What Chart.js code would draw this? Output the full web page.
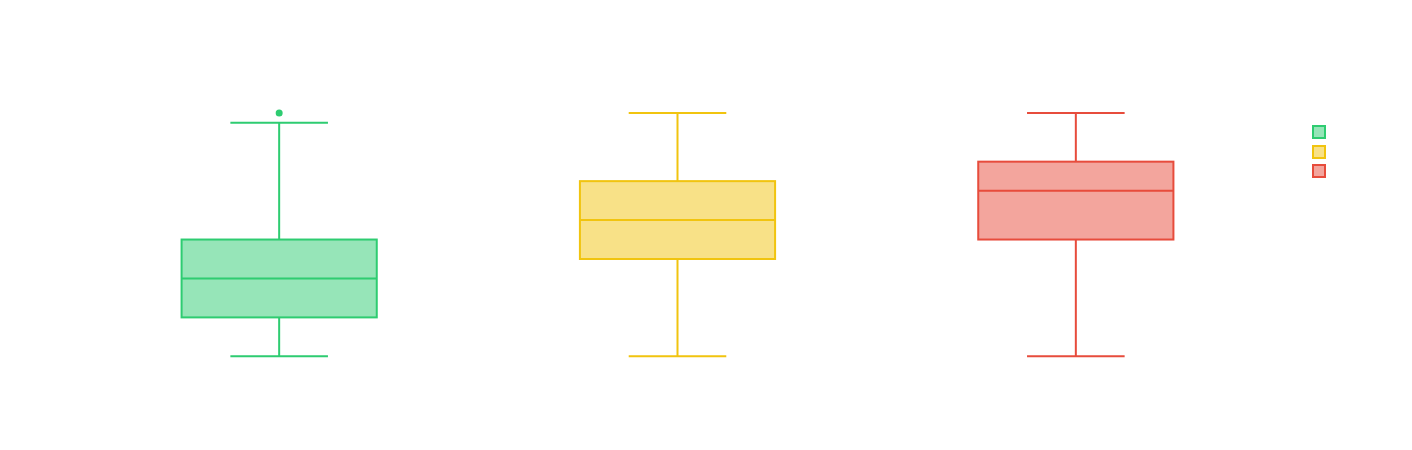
<!DOCTYPE html>
<html>
<head>
<meta charset="utf-8">
<script src="https://cdn.jsdelivr.net/npm/chart.js@4.4.1/dist/chart.umd.min.js"></script>
<style>
    html, body { margin: 0; padding: 0; background: #fff; }
    #wrap { width: 1412px; height: 450px; }
</style>
</head>
<body>
<div id="wrap"><canvas id="boxChart"></canvas></div>
<script>
// box plot summary per group (no labels are shown on the chart)
const groups = ['Group 1', 'Group 2', 'Group 3'];
const whiskerLow = [20, 20, 20];
const q1 = [28, 40, 44];
const medians = [36, 48, 54];
const q3 = [44, 56, 60];
const whiskerHigh = [68, 70, 70];
const outliers = [[70], [], []];

const lineColors = ['#2ecc71', '#f1c40f', '#e74c3c'];
const fillColors = ['rgba(46, 204, 113, 0.5)', 'rgba(241, 196, 15, 0.5)', 'rgba(231, 76, 60, 0.5)'];

// box outlines, whiskers, medians, outliers and the little legend squares
const boxExtras = {
    id: 'boxExtras',
    afterDatasetsDraw(chart) {
        const ctx = chart.ctx;
        const y = chart.scales.y;
        const bars = chart.getDatasetMeta(0).data;
        ctx.save();
        ctx.lineWidth = 2;
        bars.forEach((bar, i) => {
            const x = bar.x;
            const half = bar.width / 2;
            const cap = bar.width / 4;
            ctx.strokeStyle = lineColors[i];
            ctx.fillStyle = lineColors[i];
            ctx.strokeRect(x - half, bar.y, bar.width, bar.base - bar.y);
            ctx.beginPath();
            // median
            ctx.moveTo(x - half, y.getPixelForValue(medians[i]));
            ctx.lineTo(x + half, y.getPixelForValue(medians[i]));
            // lower whisker
            ctx.moveTo(x, y.getPixelForValue(q1[i]));
            ctx.lineTo(x, y.getPixelForValue(whiskerLow[i]));
            ctx.moveTo(x - cap, y.getPixelForValue(whiskerLow[i]));
            ctx.lineTo(x + cap, y.getPixelForValue(whiskerLow[i]));
            // upper whisker
            ctx.moveTo(x, y.getPixelForValue(q3[i]));
            ctx.lineTo(x, y.getPixelForValue(whiskerHigh[i]));
            ctx.moveTo(x - cap, y.getPixelForValue(whiskerHigh[i]));
            ctx.lineTo(x + cap, y.getPixelForValue(whiskerHigh[i]));
            ctx.stroke();
            outliers[i].forEach(v => {
                ctx.beginPath();
                ctx.arc(x, y.getPixelForValue(v), 3.5, 0, Math.PI * 2);
                ctx.fill();
            });
        });

        // legend squares
        const lx = chart.width - 100;
        groups.forEach((g, i) => {
            const ly = Math.round(125 + i * 19.5);
            ctx.fillStyle = fillColors[i];
            ctx.fillRect(lx, ly, 14, 14);
            ctx.strokeStyle = lineColors[i];
            ctx.strokeRect(lx + 1, ly + 1, 12, 12);
        });
        ctx.restore();
    }
};

new Chart(document.getElementById('boxChart').getContext('2d'), {
    type: 'bar',
    data: {
        labels: groups,
        datasets: [{
            label: 'Distribution',
            data: q1.map((v, i) => [v, q3[i]]),
            backgroundColor: fillColors,
            borderWidth: 0,
            barPercentage: 0.49,
            categoryPercentage: 1
        }]
    },
    options: {
        responsive: true,
        maintainAspectRatio: false,
        animation: false,
        layout: { padding: { left: 80, right: 137, top: 40, bottom: 45 } },
        scales: {
            x: { display: false },
            y: { display: false, min: 10, max: 85 }
        },
        plugins: {
            legend: { display: false },
            tooltip: { enabled: false }
        }
    },
    plugins: [boxExtras]
});
</script>
</body>
</html>
